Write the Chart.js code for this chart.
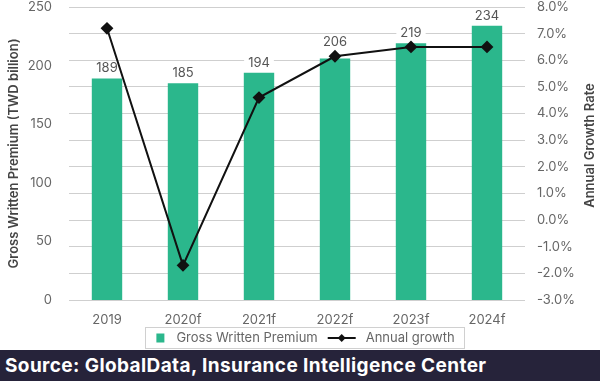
<!DOCTYPE html>
<html>
<head>
<meta charset="utf-8">
<script src="https://cdn.jsdelivr.net/npm/chart.js@4.4.1/dist/chart.umd.min.js"></script>
<style>
  html, body { margin: 0; padding: 0; background: #fff; }
  #wrap { width: 600px; height: 350px; position: relative; }
  #footer {
    width: 600px; height: 31px; background: #26233a; color: #fff;
    font-family: Inter, "Open Sans", sans-serif; font-weight: 700; font-size: 19px;
    letter-spacing: 0.4px;
    line-height: 31px; padding-left: 5px; box-sizing: border-box; white-space: nowrap;
  }
</style>
</head>
<body>
<div id="wrap"><canvas id="myChart" width="600" height="350"></canvas></div>
<div id="footer">Source: GlobalData, Insurance Intelligence Center</div>
<script>
const years = ["2019", "2020f", "2021f", "2022f", "2023f", "2024f"];
const premium = [189, 185, 194, 206, 219, 234];      // TWD billion
const growth = [7.2, -1.7, 4.6, 6.15, 6.5, 6.5];       // percent

const GREEN = "#2bb78c";
const TEXT = "#666";
const FONT = "Inter, 'Open Sans', sans-serif";

// value labels on top of the bars (drawn right after the bars, under the line)
const barLabels = {
    id: 'barLabels',
    afterDatasetDraw(chart, args) {
        if (args.index !== 1) return;
        const ctx = chart.ctx;
        const pts = chart.getDatasetMeta(0).data;
        ctx.save();
        ctx.font = "13px " + FONT;
        ctx.textAlign = 'center';
        ctx.textBaseline = 'middle';
        args.meta.data.forEach((bar, i) => {
            const txt = String(premium[i]);
            const w = ctx.measureText(txt).width + 8;
            let y = bar.y - 10;
            // push the label above the growth marker when they would collide
            if (pts[i] && Math.abs(y - pts[i].y) < 13) y = pts[i].y - 14;
            ctx.fillStyle = '#fff';
            ctx.fillRect(bar.x - w / 2, y - 7, w, 14);
            ctx.fillStyle = '#555';
            ctx.fillText(txt, bar.x, y);
        });
        ctx.restore();
    }
};

// right axis title reads bottom-to-top in the original
const rightTitle = {
    id: 'rightTitle',
    afterDraw(chart) {
        const ctx = chart.ctx;
        const s = chart.scales.y1;
        ctx.save();
        ctx.translate(s.right - 10, (chart.chartArea.top + chart.chartArea.bottom) / 2 - 8);
        ctx.rotate(-Math.PI / 2);
        ctx.font = "600 13px " + FONT;
        ctx.fillStyle = '#444';
        ctx.textAlign = 'center';
        ctx.textBaseline = 'middle';
        ctx.fillText('Annual Growth Rate', 0, 0);
        ctx.restore();
    }
};

// legend with a frame, bar swatch and line+diamond swatch
const boxLegend = {
    id: 'boxLegend',
    afterDraw(chart) {
        const ctx = chart.ctx;
        ctx.save();
        ctx.font = "13px " + FONT;
        const t1 = "Gross Written Premium", t2 = "Annual growth";
        const w1 = ctx.measureText(t1).width, w2 = ctx.measureText(t2).width;
        const total = 11 + 8 + 12 + w1 + 10 + 28 + 10 + w2 + 10;
        let x = 305 - total / 2;
        const top = 327, h = 21, cy = top + h / 2 + 0.5;
        ctx.strokeStyle = '#d0d0d0';
        ctx.lineWidth = 1;
        ctx.strokeRect(Math.round(x) + 0.5, top + 0.5, Math.round(total), h);
        x += 11;
        ctx.fillStyle = GREEN;
        ctx.fillRect(x, cy - 4.5, 8, 9);
        x += 8 + 12;
        ctx.fillStyle = TEXT;
        ctx.textBaseline = 'middle';
        ctx.fillText(t1, x, cy);
        x += w1 + 10;
        ctx.strokeStyle = '#111';
        ctx.lineWidth = 2;
        ctx.beginPath();
        ctx.moveTo(x, cy);
        ctx.lineTo(x + 28, cy);
        ctx.stroke();
        ctx.fillStyle = '#111';
        ctx.beginPath();
        ctx.moveTo(x + 14, cy - 4);
        ctx.lineTo(x + 18, cy);
        ctx.lineTo(x + 14, cy + 4);
        ctx.lineTo(x + 10, cy);
        ctx.closePath();
        ctx.fill();
        x += 28 + 10;
        ctx.fillStyle = TEXT;
        ctx.fillText(t2, x, cy);
        ctx.restore();
    }
};

const gConfig = {
    data: {
        labels: years,
        datasets: [{
            type: 'line',
            label: 'Annual growth',
            data: growth,
            yAxisID: 'y1',
            borderColor: '#111',
            backgroundColor: '#111',
            borderWidth: 2,
            pointStyle: 'rectRot',
            pointRadius: 5,
            pointHoverRadius: 5,
            tension: 0,
            order: 0
        }, {
            type: 'bar',
            label: 'Gross Written Premium',
            data: premium,
            yAxisID: 'y',
            backgroundColor: GREEN,
            barPercentage: 0.4,
            categoryPercentage: 1.0,
            order: 1
        }]
    },
    options: {
        responsive: false,
        animation: false,
        layout: { padding: { top: 7, bottom: 20, left: 0, right: 0 } },
        plugins: {
            legend: { display: false },
            tooltip: { enabled: false }
        },
        scales: {
            x: {
                grid: { display: false, drawTicks: false },
                border: { display: false },
                ticks: { color: TEXT, font: { family: FONT, size: 13 }, padding: 12 },
                afterFit: (s) => { s.height = 30; }
            },
            y: {
                position: 'left',
                min: 0, max: 250,
                ticks: { stepSize: 50, color: TEXT, font: { family: FONT, size: 13 }, padding: 9 },
                grid: { display: false },
                border: { display: false },
                title: {
                    display: true,
                    text: 'Gross Written Premium (TWD billion)',
                    color: '#444',
                    font: { family: FONT, size: 13, weight: '600' },
                    padding: { top: 6, bottom: 0 }
                },
                afterFit: (s) => { s.width = 69; s.paddingTop = 0; s.paddingBottom = 0; }
            },
            y1: {
                position: 'right',
                min: -3, max: 8,
                ticks: {
                    stepSize: 1, color: TEXT, font: { family: FONT, size: 13 }, padding: 12,
                    callback: (v) => v.toFixed(1) + '%'
                },
                grid: { color: '#cfcfcf', drawTicks: false },
                border: { display: false },
                afterFit: (s) => { s.width = 75; s.paddingTop = 0; s.paddingBottom = 0; }
            }
        }
    },
    plugins: [barLabels, rightTitle, boxLegend]
};

const gChart = new Chart(document.getElementById('myChart'), gConfig);
</script>
</body>
</html>
